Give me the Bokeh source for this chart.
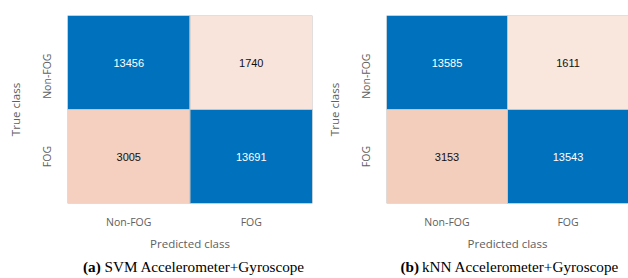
from bokeh.plotting import figure
from bokeh.layouts import row, column
from bokeh.models import ColumnDataSource, Label, FactorRange
from bokeh.embed import file_html
from bokeh.resources import INLINE

classes = ["Non-FOG", "FOG"]
svm_values = [[13456, 1740], [3005, 13691]]
knn_values = [[13585, 1611], [3153, 13543]]
caption_tags = ["(a)", "(b)"]
caption_texts = ["SVM Accelerometer+Gyroscope", "kNN Accelerometer+Gyroscope"]

# row labels as displayed on the rotated y axis (MATLAB places "Non-FOG" a bit low)
row_labels = [classes[0] + "\u00a0" * 10, classes[1]]

BLUE = (0, 114, 189)
ORANGE = (217, 83, 25)


def mix(c, t):
    r = [round(255 + (ci - 255) * t) for ci in c]
    return "#%02x%02x%02x" % tuple(r)


def make(values, width, left, right):
    xs, ys, vals, fills, tcols = [], [], [], [], []
    for i, true_c in enumerate(row_labels):
        for j, pred_c in enumerate(classes):
            v = values[i][j]
            xs.append(pred_c)
            ys.append(true_c)
            vals.append(str(v))
            if i == j:
                fills.append(mix(BLUE, 1.0))
                tcols.append("#ffffff")
            else:
                fills.append(mix(ORANGE, v / 11000))
                tcols.append("#111111")
    src = ColumnDataSource(dict(x=xs, y=ys, v=vals, fill=fills, tc=tcols))
    p = figure(width=width, height=254, x_range=FactorRange(*classes),
               y_range=FactorRange(*row_labels[::-1]),
               output_backend="svg", toolbar_location=None,
               min_border_left=left, min_border_right=right,
               min_border_top=15, min_border_bottom=51)
    p.rect("x", "y", 1, 1, source=src, fill_color="fill",
           line_color="#c4c4c4", line_width=1)
    p.text("x", "y", text="v", source=src, text_color="tc",
           text_align="center", text_baseline="middle",
           text_font_size="11px", text_font={"value": "Liberation Sans"})
    p.outline_line_color = None
    p.xgrid.grid_line_color = None
    p.ygrid.grid_line_color = None
    for ax in (p.xaxis[0], p.yaxis[0]):
        ax.axis_line_color = None
        ax.major_tick_line_color = None
        ax.minor_tick_line_color = None
        ax.major_tick_out = 0
        ax.major_tick_in = 0
        ax.minor_tick_out = 0
        ax.minor_tick_in = 0
        ax.major_label_text_font = "Open Sans"
        ax.major_label_text_font_size = "10.5px"
        ax.major_label_text_color = "#606060"
        ax.axis_label_text_font = "Open Sans"
        ax.axis_label_text_font_size = "11.5px"
        ax.axis_label_text_font_style = "normal"
        ax.axis_label_text_color = "#606060"
    p.xaxis.axis_label = "Predicted class"
    p.yaxis.axis_label = "True class"
    p.xaxis.major_label_standoff = 11
    p.xaxis.axis_label_standoff = 4
    p.yaxis.major_label_orientation = "vertical"
    p.yaxis.major_label_standoff = 14
    p.yaxis.axis_label_standoff = 14
    p.x_range.range_padding = 0
    p.y_range.range_padding = 0
    return p


def caption(tag, text, width, center):
    c = figure(width=width, height=24, x_range=(0, width), y_range=(0, 24),
               output_backend="svg", toolbar_location=None,
               min_border=0, min_border_left=0, min_border_right=0,
               min_border_top=0, min_border_bottom=0)
    c.axis.visible = False
    c.grid.visible = False
    c.outline_line_color = None
    x0 = center - 111
    c.add_layout(Label(x=x0, y=12, text=tag, text_font="Liberation Serif",
                       text_font_style="bold", text_font_size="15.2px",
                       text_baseline="middle", text_color="#000000"))
    c.add_layout(Label(x=x0 + 21.5, y=12, text=text,
                       text_font="Liberation Serif", text_font_size="15.2px",
                       text_baseline="middle", text_color="#000000"))
    return c


p1 = make(svm_values, 320, 67, 8)
p2 = make(knn_values, 308, 66, 0)
c1 = caption(caption_tags[0], caption_texts[0], 320, 67 + 245 / 2 + 4)
c2 = caption(caption_tags[1], caption_texts[1], 308, 66 + 242 / 2 + 4)
layout = column(row(p1, p2), row(c1, c2))

open("out.html", "w").write(file_html(layout, INLINE))
